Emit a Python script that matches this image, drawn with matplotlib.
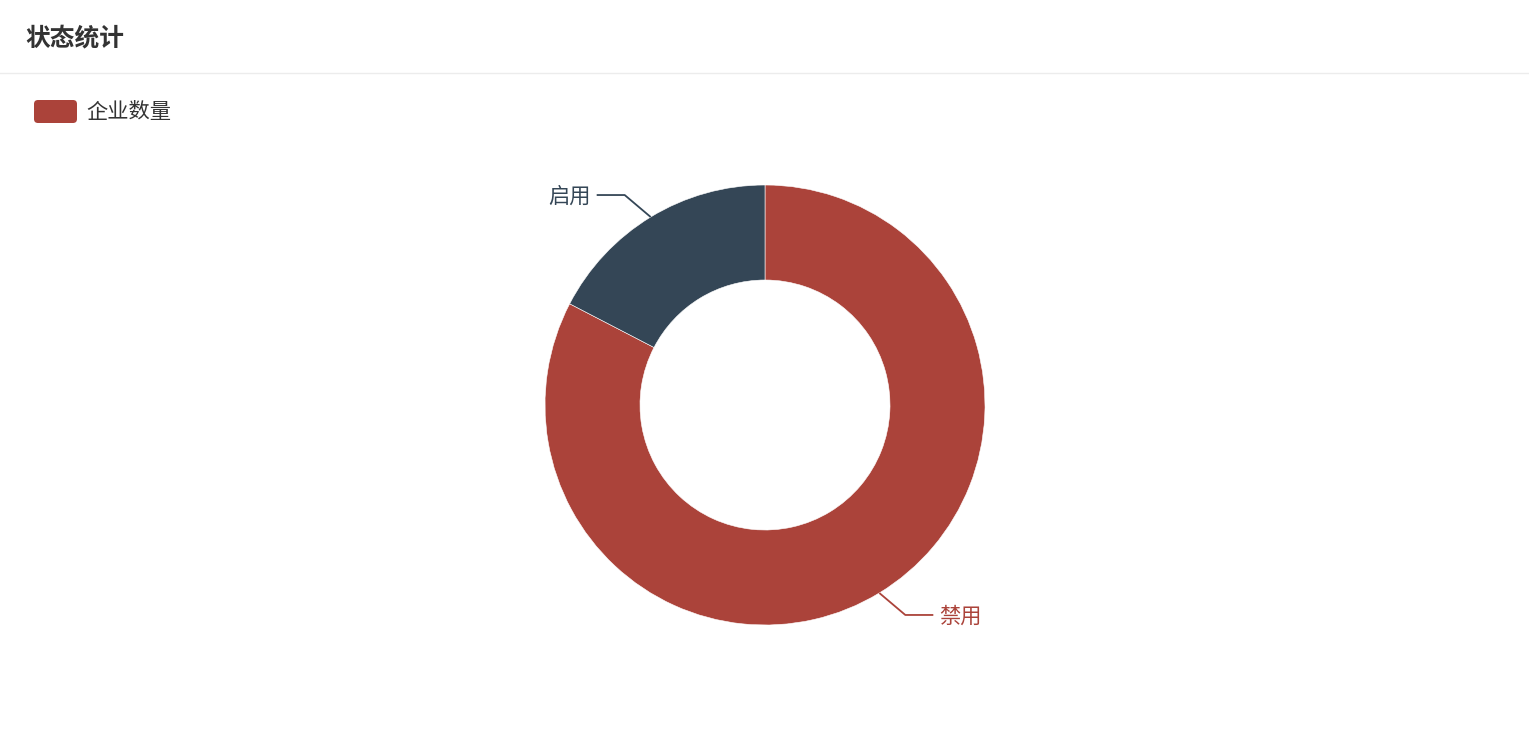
import matplotlib
matplotlib.use("Agg")
import matplotlib.pyplot as plt
from matplotlib.patches import FancyBboxPatch
import numpy as np

plt.rcParams['font.family'] = ['Noto Sans CJK SC', 'DejaVu Sans']

title = "状态统计"
series_name = "企业数量"
categories = ["禁用", "启用"]
values = [19, 4]
colors = ["#ab433a", "#344656"]

W, H = 1529, 736
fig = plt.figure(figsize=(W / 100, H / 100), dpi=100)
fig.patch.set_facecolor("white")

# background overlay axes in pixel coordinates
bg = fig.add_axes([0, 0, 1, 1])
bg.set_xlim(0, W)
bg.set_ylim(H, 0)
bg.axis("off")

bg.text(25, 38, title, fontsize=17.8, fontweight="bold", color="#333333",
        va="center", ha="left")
bg.plot([0, W], [73, 73], color="#ececec", lw=1.0)

# legend
sw = FancyBboxPatch((34 + 4, 100 + 4), 43 - 8, 23 - 8,
                    boxstyle="round,pad=4", fc=colors[0], ec="none")
bg.add_patch(sw)
bg.text(86, 111.5, series_name, fontsize=15.3, color="#333333", va="center", ha="left")

# pie axes
cx, cy, R = 765, 405, 220
ax = fig.add_axes([(cx - R) / W, (H - cy - R) / H, 2 * R / W, 2 * R / H])

wedges, _ = ax.pie(values, colors=colors, startangle=90, counterclock=False,
                   radius=1, wedgeprops=dict(width=95 / 220, edgecolor="white",
                                             linewidth=0.4))
ax.set_xlim(-1, 1)
ax.set_ylim(-1, 1)
ax.set_aspect("equal")
ax.axis("off")

px = 1 / R  # one pixel in data units
for w, lab, col in zip(wedges, categories, colors):
    th = np.deg2rad((w.theta1 + w.theta2) / 2)
    c, s = np.cos(th), np.sin(th)
    sx = 1 if c >= 0 else -1
    sy = 1 if s >= 0 else -1
    p1 = (c, s)
    p2 = (c + sx * 26 * px, s + sy * 22 * px)
    p3 = (p2[0] + sx * 28 * px, p2[1])
    ax.plot([p1[0], p2[0], p3[0]], [p1[1], p2[1], p3[1]], color=col, lw=1.3,
            clip_on=False, solid_capstyle="butt")
    ax.text(p3[0] + sx * 6 * px, p3[1] - 1.5 * px, lab, fontsize=15.3, color=col,
            va="center", ha="left" if sx > 0 else "right", clip_on=False)

fig.savefig("out.png", dpi=100, facecolor="white")
